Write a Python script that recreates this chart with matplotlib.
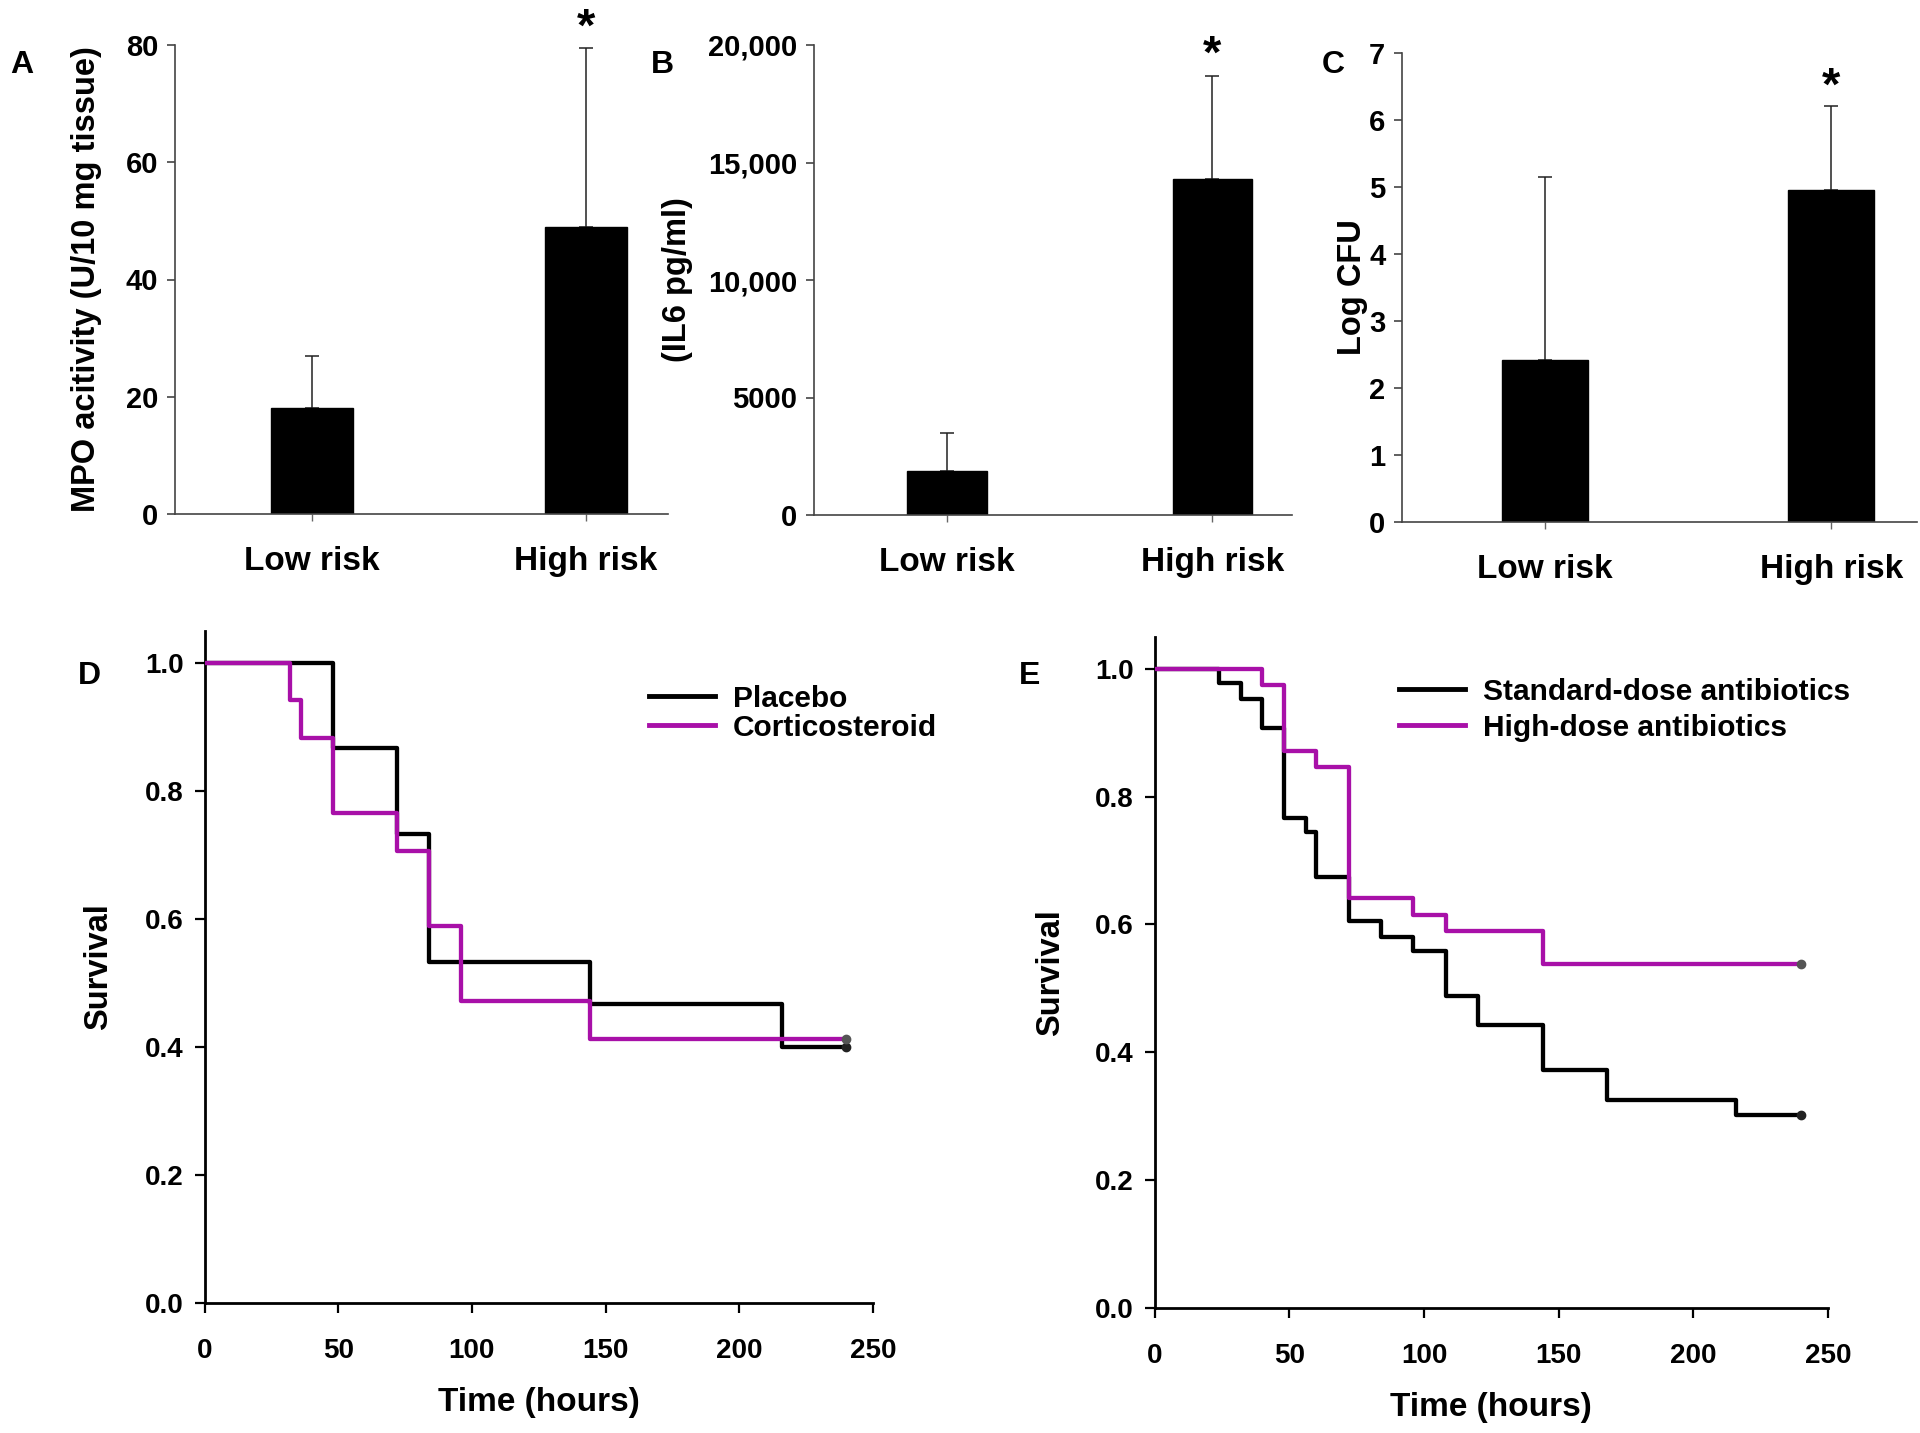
import numpy as np
import matplotlib
matplotlib.use("Agg")
import matplotlib.pyplot as plt

plt.rcParams['font.family'] = ['Liberation Sans', 'DejaVu Sans']
plt.rcParams['font.weight'] = 'bold'

# ---------------- data ----------------
categories = ["Low risk", "High risk"]
mpo_mean = [18, 49]
mpo_err = [9, 30.5]
il6_mean = [1870, 14280]
il6_err = [1640, 4390]
cfu_mean = [2.42, 4.96]
cfu_err = [2.73, 1.25]

# Panel D (Kaplan-Meier step data: time, survival)
placebo_t = [0, 48, 72, 84, 144, 216, 240]
placebo_s = [1.0, 0.867, 0.733, 0.533, 0.467, 0.400, 0.400]
cortico_t = [0, 32, 36, 48, 72, 84, 96, 144, 240]
cortico_s = [1.0, 0.941, 0.882, 0.765, 0.706, 0.588, 0.471, 0.412, 0.412]

# Panel E
std_t = [0, 24, 32, 40, 48, 56, 60, 72, 84, 96, 108, 120, 144, 168, 216, 240]
std_s = [1.0, 0.977, 0.953, 0.907, 0.767, 0.744, 0.674, 0.605, 0.581, 0.558,
         0.488, 0.442, 0.372, 0.326, 0.302, 0.302]
high_t = [0, 40, 48, 60, 72, 96, 108, 144, 240]
high_s = [1.0, 0.974, 0.872, 0.846, 0.641, 0.615, 0.590, 0.538, 0.538]

MAG = '#A810A8'
W, H = 1920, 1433
fig = plt.figure(figsize=(W / 100, H / 100), dpi=100)
LBL_SHIFT = 16


def add_ax(l, r, t, b):
    return fig.add_axes([l / W, 1 - b / H, (r - l) / W, (b - t) / H])


def bar_panel(ax, means, errs, ymax, yticks, yticklabels, ylabel, star_y, label_x):
    x = np.arange(len(categories))
    ax.bar(x, means, width=0.3, color='black', edgecolor='black', zorder=2)
    ax.errorbar(x, means, yerr=[np.zeros(len(errs)), errs], fmt='none',
                ecolor='#222222', elinewidth=1.1, capsize=5, capthick=1.1, zorder=1)
    ax.set_xlim(-0.5, 1.3)
    ax.set_ylim(0, ymax)
    ax.set_xticks(x)
    ax.set_xticklabels(categories, fontsize=24, fontweight='bold')
    ax.set_yticks(yticks)
    ax.set_yticklabels(yticklabels, fontsize=21, fontweight='bold')
    for s in ['top', 'right']:
        ax.spines[s].set_visible(False)
    for s in ['left', 'bottom']:
        ax.spines[s].set_linewidth(1.2)
        ax.spines[s].set_color('#444444')
    ax.tick_params(axis='y', direction='out', length=6, width=1.2, color='#444444', pad=6)
    ax.tick_params(axis='x', direction='out', length=5, width=1.0, color='#666666', pad=18)
    ax.set_ylabel(ylabel, fontsize=23.5, fontweight='bold')
    ax.yaxis.set_label_coords(label_x, 0.5)
    ax.text(1, star_y, '*', fontsize=34, fontweight='bold', ha='center', va='center',
            clip_on=False)


# Panel A
axA = add_ax(175, 668, 45, 514)
bar_panel(axA, mpo_mean, mpo_err, 80, [0, 20, 40, 60, 80],
          ['0', '20', '40', '60', '80'], 'MPO acitivity (U/10 mg tissue)', 82.8,
          (85.7 + LBL_SHIFT - 175) / (668 - 175))
# Panel B
axB = add_ax(814, 1292, 45, 515)
bar_panel(axB, il6_mean, il6_err, 20000, [0, 5000, 10000, 15000, 20000],
          ['0', '5000', '10,000', '15,000', '20,000'], '(IL6 pg/ml)', 19530,
          (677 + LBL_SHIFT - 814) / (1292 - 814))
# Panel C
axC = add_ax(1402, 1917, 53, 522)
bar_panel(axC, cfu_mean, cfu_err, 7, list(range(8)),
          [str(i) for i in range(8)], 'Log CFU', 6.48,
          (1352 + LBL_SHIFT - 1402) / (1917 - 1402))


def km_panel(ax, t1, s1, t2, s2, lab1, lab2, legend_pos, label_x, spacing):
    ax.step(t1, s1, where='post', color='black', lw=3.1, label=lab1, zorder=3)
    ax.step(t2, s2, where='post', color=MAG, lw=3.1, label=lab2, zorder=3)
    ax.plot([t1[-1]], [s1[-1]], 'o', color='#222222', ms=6, zorder=4)
    ax.plot([t2[-1]], [s2[-1]], 'o', color='#555555', ms=6, zorder=4)
    ax.set_xlim(0, 250)
    ax.set_ylim(0, 1.05)
    ax.set_xticks([0, 50, 100, 150, 200, 250])
    ax.set_xticklabels(['0', '50', '100', '150', '200', '250'], fontsize=20, fontweight='bold')
    ax.set_yticks([0, 0.2, 0.4, 0.6, 0.8, 1.0])
    ax.set_yticklabels(['0.0', '0.2', '0.4', '0.6', '0.8', '1.0'], fontsize=20, fontweight='bold')
    for s in ['top', 'right']:
        ax.spines[s].set_visible(False)
    for s in ['left', 'bottom']:
        ax.spines[s].set_linewidth(2.0)
    ax.tick_params(axis='x', direction='out', length=7, width=1.6, pad=18)
    ax.tick_params(axis='y', direction='out', length=7, width=1.6, pad=8)
    ax.set_xlabel('Time (hours)', fontsize=24, fontweight='bold', labelpad=17)
    ax.set_ylabel('Survival', fontsize=23.5, fontweight='bold')
    ax.yaxis.set_label_coords(label_x, 0.5)
    leg = ax.legend(loc='upper left', bbox_to_anchor=legend_pos, frameon=False,
                    prop={'size': 21.5, 'weight': 'bold'}, handlelength=2.2,
                    handletextpad=0.6, labelspacing=spacing, borderaxespad=0)
    for line in leg.get_lines():
        line.set_linewidth(3.5)


# Panel D
axD = add_ax(204.5, 873, 630.6, 1303)
km_panel(axD, placebo_t, placebo_s, cortico_t, cortico_s, 'Placebo', 'Corticosteroid',
         ((637 - 204.5) / (873 - 204.5), 1 - (673 - 630.6) / (1303 - 630.6)),
         (98 + LBL_SHIFT - 204.5) / (873 - 204.5), 0.02)
# Panel E
axE = add_ax(1154.7, 1828, 636.7, 1308)
km_panel(axE, std_t, std_s, high_t, high_s, 'Standard-dose antibiotics', 'High-dose antibiotics',
         ((1387 - 1154.7) / (1828 - 1154.7), 1 - (666 - 636.7) / (1308 - 636.7)),
         (1050 + LBL_SHIFT - 1154.7) / (1828 - 1154.7), 0.26)

# Panel letters
for letter, (x, y) in {'A': (10, 65), 'B': (651, 65), 'C': (1322, 65),
                       'D': (78, 676), 'E': (1019, 676)}.items():
    fig.text(x / W, 1 - y / H, letter, fontsize=23, fontweight='bold', ha='left', va='center')

fig.savefig('out.png', dpi=100, facecolor='white')
